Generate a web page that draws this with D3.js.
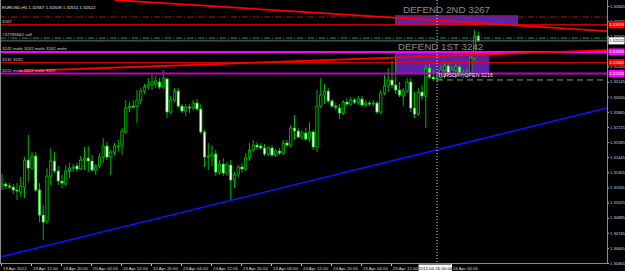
<!DOCTYPE html>
<html>
<head>
<meta charset="utf-8">
<script src="https://cdn.jsdelivr.net/npm/d3@7"></script>
<style>
  html, body { margin: 0; padding: 0; background: #000; }
  svg { display: block; font-family: "Liberation Sans", Arial, sans-serif; }
</style>
</head>
<body>
<div id="chart"></div>
<script>
// EURUSD H1, one value per bar (bar 0 = 19 Apr 04:00, bar 116 = 26 Apr 00:00)
const opens = [1.31178,1.31196,1.31178,1.31168,1.31141,1.31122,1.31168,1.31418,1.31344,1.31455,1.31141,1.30909,1.30854,1.31270,1.31409,1.31317,1.31224,1.31196,1.31317,1.31344,1.31363,1.31335,1.31418,1.31437,1.31409,1.31326,1.31363,1.31446,1.31548,1.31446,1.31492,1.31539,1.31548,1.31678,1.31900,1.31918,1.31918,1.31974,1.32057,1.32094,1.32113,1.32122,1.32141,1.32094,1.32169,1.31863,1.31974,1.32057,1.31918,1.31872,1.31909,1.31900,1.31946,1.31891,1.31678,1.31446,1.31455,1.31474,1.31307,1.31381,1.31298,1.31372,1.31233,1.31280,1.31354,1.31335,1.31437,1.31511,1.31557,1.31548,1.31530,1.31474,1.31530,1.31465,1.31502,1.31483,1.31576,1.31557,1.31715,1.31687,1.31631,1.31668,1.31613,1.31678,1.31539,1.31918,1.32020,1.32057,1.31965,1.31918,1.31900,1.31854,1.31955,1.31937,1.31974,1.31955,1.31983,1.31928,1.31946,1.31937,1.31946,1.31863,1.32039,1.32104,1.32159,1.32113,1.32067,1.32011,1.32057,1.32141,1.31900,1.31844,1.32048,1.32011,1.32270,1.32187,1.32169,1.32187,1.32252,1.32289,1.32224,1.32252,1.32280,1.32224,1.32206,1.32233,1.32363,1.32567];
const highs = [1.31289,1.31215,1.31205,1.31196,1.31205,1.31261,1.31446,1.31650,1.31492,1.31492,1.31205,1.31002,1.31344,1.31530,1.31492,1.31363,1.31280,1.31372,1.31391,1.31381,1.31391,1.31455,1.31539,1.31548,1.31465,1.31381,1.31483,1.31622,1.31585,1.31511,1.31576,1.31604,1.31715,1.31974,1.31955,1.31974,1.32067,1.32085,1.32122,1.32178,1.32224,1.32196,1.32178,1.32252,1.32187,1.32011,1.32085,1.32085,1.31937,1.31937,1.31937,1.31974,1.31983,1.31937,1.31696,1.31576,1.31557,1.31511,1.31418,1.31437,1.31400,1.31418,1.31307,1.31372,1.31391,1.31483,1.31576,1.31604,1.31585,1.31576,1.31567,1.31548,1.31557,1.31520,1.31530,1.31604,1.31604,1.31743,1.31835,1.31715,1.31696,1.31715,1.31770,1.31696,1.32067,1.32178,1.32122,1.32085,1.31983,1.31946,1.31937,1.31974,1.31993,1.32002,1.31993,1.32011,1.32011,1.31974,1.31965,1.31974,1.31965,1.32067,1.32206,1.32270,1.32344,1.32381,1.32141,1.32085,1.32178,1.32178,1.32048,1.32085,1.32113,1.32298,1.32307,1.32252,1.32233,1.32289,1.32326,1.32317,1.32289,1.32307,1.32298,1.32252,1.32270,1.32391,1.32622,1.32609];
const lows = [1.31141,1.31150,1.31150,1.31104,1.31048,1.31076,1.31067,1.31215,1.31326,1.31122,1.30844,1.30678,1.30826,1.31187,1.31298,1.31187,1.31159,1.31178,1.31252,1.31307,1.31307,1.31326,1.31326,1.31307,1.31307,1.31280,1.31344,1.31391,1.31418,1.31280,1.31465,1.31492,1.31465,1.31659,1.31863,1.31900,1.31761,1.31937,1.32030,1.32067,1.32067,1.32085,1.32076,1.32076,1.31807,1.31844,1.31955,1.31900,1.31854,1.31826,1.31854,1.31881,1.31872,1.31659,1.31354,1.31326,1.31363,1.31270,1.31280,1.31270,1.31270,1.31048,1.31159,1.31252,1.31307,1.31317,1.31409,1.31492,1.31511,1.31511,1.31455,1.31455,1.31446,1.31446,1.31465,1.31465,1.31539,1.31530,1.31604,1.31622,1.31604,1.31594,1.31585,1.31511,1.31492,1.31900,1.31937,1.31946,1.31900,1.31881,1.31798,1.31835,1.31918,1.31918,1.31937,1.31928,1.31909,1.31909,1.31918,1.31918,1.31844,1.31844,1.32020,1.32048,1.32085,1.32030,1.32002,1.31918,1.32039,1.31863,1.31807,1.31826,1.31974,1.31715,1.32169,1.32150,1.32141,1.32159,1.32178,1.32196,1.32196,1.32178,1.32206,1.32178,1.32178,1.32215,1.32344,1.32511];
const closes = [1.31196,1.31178,1.31168,1.31141,1.31131,1.31178,1.31418,1.31344,1.31455,1.31141,1.30909,1.30844,1.31270,1.31409,1.31317,1.31224,1.31205,1.31317,1.31344,1.31354,1.31335,1.31418,1.31437,1.31409,1.31326,1.31363,1.31446,1.31548,1.31446,1.31492,1.31548,1.31548,1.31687,1.31900,1.31918,1.31909,1.31974,1.32057,1.32094,1.32113,1.32141,1.32150,1.32094,1.32178,1.31863,1.31974,1.32057,1.31918,1.31872,1.31909,1.31900,1.31946,1.31891,1.31678,1.31446,1.31455,1.31474,1.31307,1.31381,1.31298,1.31372,1.31233,1.31280,1.31354,1.31335,1.31437,1.31511,1.31557,1.31539,1.31530,1.31474,1.31530,1.31465,1.31502,1.31483,1.31576,1.31557,1.31715,1.31687,1.31631,1.31668,1.31613,1.31678,1.31539,1.31918,1.32020,1.32057,1.31965,1.31918,1.31909,1.31854,1.31955,1.31937,1.31974,1.31955,1.31983,1.31928,1.31946,1.31937,1.31946,1.31863,1.32039,1.32104,1.32159,1.32113,1.32067,1.32020,1.32057,1.32141,1.31900,1.31844,1.32048,1.32011,1.32270,1.32187,1.32169,1.32187,1.32252,1.32289,1.32224,1.32252,1.32280,1.32224,1.32206,1.32233,1.32363,1.32567,1.32522];

// price axis
const priceTicks = [1.32845,1.32705,1.32565,1.32425,1.32285,1.32145,1.32005,1.31865,1.31725,1.31585,1.31445,1.31305,1.31165,1.31025,1.30885,1.30745,1.30605,1.30465];
// time axis (the 25 Apr 20:00 label sits under the date box of the vertical line)
const timeBars = [0,8,16,24,32,40,48,56,64,72,80,88,96,104,120];
const timeLabels = ['19 Apr 2012','19 Apr 12:00','19 Apr 20:00','20 Apr 04:00','20 Apr 12:00','20 Apr 20:00','23 Apr 04:00','23 Apr 12:00','23 Apr 20:00','24 Apr 04:00','24 Apr 12:00','24 Apr 20:00','25 Apr 04:00','25 Apr 12:00','26 Apr 04:00'];

// horizontal objects
const levelPrices = [1.32743, 1.3267, 1.32548, 1.3242, 1.3232, 1.3222];
const levelLabels = ['', '3267', '#37785662 sell', '3242 mofo 3242 mofo 3242 mofo', '3232 3232', '3222 mofo 3222 mofo 3222'];
const bidPrice = 1.32522;
const thursdayOpen = 1.3216;
const thursdayBar = 116;
const axisMarkPrices = [1.3267, 1.32522, 1.3242, 1.3232, 1.3222];

// rectangles
const zoneBars = [[104.8, 137.6], [104.8, 129.9]];
const zonePrices = [[1.3276, 1.3267], [1.3242, 1.3222]];
const zoneLabels = ['DEFEND 2ND 3267', 'DEFEND 1ST 3242'];
const zoneLabelBars = [106.9, 105.6];

// trendlines
const redDownBars = [30, 161.3], redDownPrices = [1.32900, 1.32613];
const redUpBars = [4.8, 161.3], redUpPrices = [1.32243, 1.32437];
const blueBars = [-0.5, 161.3], bluePrices = [1.30520, 1.31900];

const header = 'EURUSD,H1  1.32567 1.32609 1.32511 1.32522';

const config = { width: 625, height: 271, plotRight: 607, plotBottom: 263 };

const svg = d3.select('#chart').append('svg')
  .attr('width', config.width)
  .attr('height', config.height);

svg.append('rect').attr('width', config.width).attr('height', config.height).attr('fill', '#000');

const x = d3.scaleLinear().domain([0, 161.33]).range([2, config.plotRight]);
const y = d3.scaleLinear().domain([1.30465, 1.32845]).range([config.plotBottom, 6]);

svg.append('clipPath').attr('id', 'plot')
  .append('rect').attr('x', 0).attr('y', 0)
  .attr('width', config.plotRight).attr('height', config.plotBottom);

const g = svg.append('g').attr('clip-path', 'url(#plot)');

// zones (background)
const zoneColors = ['#5c24a8', '#5a22a6'];
zoneBars.forEach((b, i) => {
  const top = Math.min(y(zonePrices[i][0]), y(zonePrices[i][1]));
  g.append('rect')
    .attr('x', x(b[0])).attr('y', top)
    .attr('width', x(b[1]) - x(b[0]))
    .attr('height', Math.abs(y(zonePrices[i][1]) - y(zonePrices[i][0])))
    .attr('fill', zoneColors[i]);
});

// candles
const candles = opens.map((o, i) => ({ i, o, h: highs[i], l: lows[i], c: closes[i] }));
const bodyW = 2.4;
const cg = g.append('g');
cg.selectAll('line.wick').data(candles).enter().append('line')
  .attr('x1', d => x(d.i)).attr('x2', d => x(d.i))
  .attr('y1', d => y(d.h)).attr('y2', d => y(d.l))
  .attr('stroke', '#00c800').attr('stroke-width', 0.9);
cg.selectAll('rect.body').data(candles).enter().append('rect')
  .attr('x', d => x(d.i) - bodyW / 2)
  .attr('y', d => y(Math.max(d.o, d.c)))
  .attr('width', bodyW)
  .attr('height', d => Math.max(0.8, Math.abs(y(d.o) - y(d.c))))
  .attr('fill', d => (d.c >= d.o ? '#021a02' : '#ffffff'))
  .attr('stroke', '#00d000').attr('stroke-width', 0.7);

// horizontal levels
const levelStyles = [
  { stroke: '#a81818', width: 1, dash: '6,2,1,2' },
  { stroke: '#ff0000', width: 1.4, dash: null },
  { stroke: '#1aa01a', width: 1, dash: '6,2,1,2' },
  { stroke: '#ff00ff', width: 2, dash: null },
  { stroke: '#ff0000', width: 1, dash: null },
  { stroke: '#c000c0', width: 2, dash: null }
];
g.append('line')
  .attr('x1', 0).attr('x2', config.plotRight)
  .attr('y1', y(bidPrice)).attr('y2', y(bidPrice))
  .attr('stroke', '#6e737c').attr('stroke-width', 1);
levelPrices.forEach((p, i) => {
  const s = levelStyles[i];
  g.append('line')
    .attr('x1', 0).attr('x2', config.plotRight)
    .attr('y1', y(p)).attr('y2', y(p))
    .attr('stroke', s.stroke).attr('stroke-width', s.width)
    .attr('stroke-dasharray', s.dash);
});
g.append('line')
  .attr('x1', x(thursdayBar)).attr('x2', config.plotRight)
  .attr('y1', y(thursdayOpen)).attr('y2', y(thursdayOpen))
  .attr('stroke', '#a09a30').attr('stroke-width', 1)
  .attr('stroke-dasharray', '6,4');

// trendlines
const trend = (bars, prices, color, w) => g.append('line')
  .attr('x1', x(bars[0])).attr('y1', y(prices[0]))
  .attr('x2', x(bars[1])).attr('y2', y(prices[1]))
  .attr('stroke', color).attr('stroke-width', w);
trend(redDownBars, redDownPrices, '#ff0000', 1.8);
trend(redUpBars, redUpPrices, '#ff0000', 1.8);
trend(blueBars, bluePrices, '#1010ff', 1.6);

// vertical dotted line
g.append('line')
  .attr('x1', x(thursdayBar)).attr('x2', x(thursdayBar))
  .attr('y1', 0).attr('y2', config.plotBottom)
  .attr('stroke', '#e0e0e0').attr('stroke-width', 1)
  .attr('stroke-dasharray', '1,2');

// object texts
zoneLabels.forEach((t, i) => {
  g.append('text')
    .attr('x', x(zoneLabelBars[i]))
    .attr('y', y(zonePrices[i][0]) - 1.8)
    .attr('font-size', 9.8)
    .attr('fill', '#8c8c8c')
    .text(t);
});
g.append('text')
  .attr('x', x(thursdayBar) + 0.5).attr('y', y(thursdayOpen) - 2.5)
  .attr('font-size', 5.4).attr('fill', '#e8e8e8')
  .text('TURSDAY OPEN 3216');
levelLabels.forEach((t, i) => {
  g.append('text')
    .attr('x', 2).attr('y', y(levelPrices[i]) - 1.8)
    .attr('font-size', 4.4).attr('fill', '#cfcfcf')
    .text(t);
});
g.append('text')
  .attr('x', 2).attr('y', 9)
  .attr('font-size', 4.4).attr('fill', '#e0e0e0')
  .text(header);

// frame
const frame = svg.append('g').attr('stroke', '#8a8a8a').attr('stroke-width', 1);
frame.append('line').attr('x1', 0.5).attr('x2', 0.5).attr('y1', 0).attr('y2', config.plotBottom);
frame.append('line').attr('x1', config.plotRight + 0.5).attr('x2', config.plotRight + 0.5).attr('y1', 0).attr('y2', config.plotBottom + 0.5);
frame.append('line').attr('x1', 0).attr('x2', config.plotRight + 0.5).attr('y1', config.plotBottom + 0.5).attr('y2', config.plotBottom + 0.5);

// price axis
const yAxis = svg.append('g')
  .attr('transform', `translate(${config.plotRight + 0.5},0)`)
  .call(d3.axisRight(y).tickValues(priceTicks).tickSize(1.5).tickSizeOuter(0).tickPadding(1).tickFormat(d3.format('.5f')));
yAxis.select('.domain').remove();
yAxis.selectAll('line').attr('stroke', '#c0c0c0');
yAxis.selectAll('text').attr('font-size', 4.1).attr('fill', '#d8d8d8').attr('font-family', '"Liberation Sans", Arial, sans-serif');

// coloured price marks on the axis
const markFills = ['#ff0000', '#ffffff', '#ff00ff', '#ff0000', '#ff00ff'];
const markText = ['#ffffff', '#000000', '#ffffff', '#ffffff', '#ffffff'];
axisMarkPrices.forEach((p, i) => {
  svg.append('rect')
    .attr('x', config.plotRight + 1.5).attr('y', y(p) - 3.5)
    .attr('width', 16).attr('height', 7)
    .attr('fill', markFills[i]);
  svg.append('text')
    .attr('x', config.plotRight + 2.2).attr('y', y(p) + 1.5)
    .attr('font-size', 4.1).attr('fill', markText[i])
    .text(d3.format('.5f')(p));
});

// time axis
const xAxis = svg.append('g')
  .attr('transform', `translate(0,${config.plotBottom + 0.5})`)
  .call(d3.axisBottom(x).tickValues(timeBars).tickSize(2.5).tickSizeOuter(0).tickPadding(1)
    .tickFormat((d, i) => timeLabels[i]));
xAxis.select('.domain').remove();
xAxis.selectAll('line').attr('stroke', '#c0c0c0').attr('transform', 'translate(-1,0)');
xAxis.selectAll('text')
  .attr('text-anchor', 'start').attr('dx', 0).attr('x', 0.5)
  .attr('font-size', 4.4).attr('fill', '#d8d8d8')
  .attr('font-family', '"Liberation Sans", Arial, sans-serif');

// vertical line date label
const vx = x(thursdayBar);
svg.append('rect')
  .attr('x', vx - 18.5).attr('y', config.plotBottom + 1.5)
  .attr('width', 33.5).attr('height', 7)
  .attr('fill', '#ffffff');
svg.append('text')
  .attr('x', vx - 1.8).attr('y', config.plotBottom + 6.6)
  .attr('text-anchor', 'middle')
  .attr('font-size', 4.4).attr('fill', '#000')
  .text('2012.04.26 00:00');
</script>
</body>
</html>
